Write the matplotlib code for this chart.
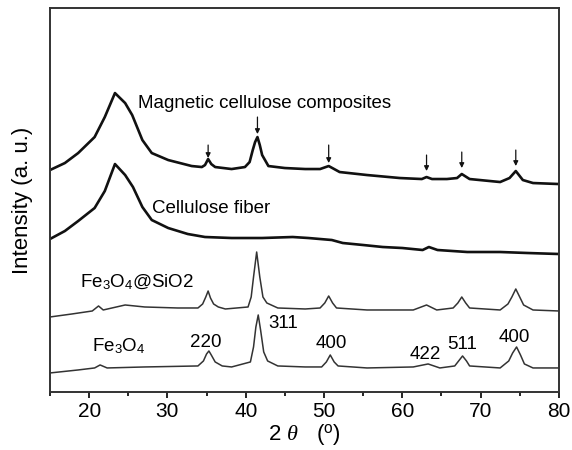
import matplotlib
matplotlib.use('Agg')
import matplotlib.pyplot as plt
from matplotlib.ticker import MultipleLocator

plt.rcParams['font.family'] = ['Liberation Sans', 'DejaVu Sans']
plt.rcParams['mathtext.fontset'] = 'custom'
plt.rcParams['mathtext.rm'] = 'Liberation Sans'
plt.rcParams['mathtext.it'] = 'Liberation Serif:italic'

# 2-theta (deg) / intensity (a.u., stacked offsets)
comp_x = [15.0, 16.9, 18.6, 20.7, 22.0, 23.3, 24.6, 25.5, 26.8, 28.0, 30.1, 33.1, 34.4, 34.8,
          35.2, 35.6, 36.1, 38.2, 39.9, 40.5, 40.9, 41.2, 41.5, 41.8, 42.1, 42.9, 45.0, 47.6,
          49.5, 50.6, 52.0, 55.5, 59.7, 62.5, 63.1, 63.8, 65.7, 67.0, 67.6, 68.6, 72.5, 73.7,
          74.5, 75.4, 76.7, 80.0]
comp_y = [222, 229, 239, 255, 275, 299, 289, 277, 252, 239, 232, 226, 225, 227,
          233, 228, 225, 223, 225, 230, 242, 250, 255, 247, 237, 226, 224, 223,
          223, 226, 220, 217, 214, 213, 215, 213, 213, 214, 218, 213, 210, 214,
          221, 212, 209, 208]

cell_x = [15.0, 16.9, 18.6, 20.7, 22.0, 23.3, 24.6, 25.6, 26.8, 28.0, 30.1, 32.6, 34.8, 38.2,
          42.1, 46.0, 48.0, 51.0, 52.4, 55.0, 57.5, 60.0, 62.6, 63.4, 64.5, 68.3, 72.5, 76.0, 80.0]
cell_y = [153, 161, 171, 184, 201, 228, 217, 205, 185, 172, 164, 158, 155, 154,
          154, 155, 154, 152, 149, 147, 145, 144, 142, 145, 142, 140, 140, 139, 138]

sio2_x = [15.0, 17.8, 20.4, 21.2, 21.8, 24.6, 27.1, 31.3, 33.9, 34.5, 34.9, 35.2, 35.5, 35.9,
          36.5, 37.4, 40.3, 40.7, 41.0, 41.4, 41.8, 42.2, 42.7, 44.1, 47.6, 49.5, 50.1, 50.6,
          51.1, 51.6, 55.5, 61.4, 63.1, 64.4, 66.5, 67.1, 67.6, 68.1, 68.6, 72.5, 73.5, 74.0,
          74.5, 75.0, 75.5, 76.7, 80.0]
sio2_y = [75, 78, 81, 86, 82, 87, 85, 84, 84, 88, 95, 101, 94, 88,
          85, 83, 85, 95, 115, 140, 115, 95, 89, 84, 83, 84, 89, 96,
          89, 84, 82, 82, 87, 82, 84, 89, 95, 89, 84, 82, 88, 95,
          103, 95, 87, 82, 81]

fe_x = [15.0, 18.6, 20.7, 21.4, 22.3, 27.1, 33.9, 34.6, 35.0, 35.3, 35.6, 36.1, 37.0, 38.2,
        40.6, 41.0, 41.3, 41.6, 41.9, 42.3, 42.8, 44.1, 47.6, 49.7, 50.3, 50.8, 51.3, 51.8,
        55.5, 61.4, 63.3, 64.8, 66.7, 67.2, 67.7, 68.2, 68.6, 72.5, 73.6, 74.1, 74.6, 75.1,
        75.6, 76.7, 80.0]
fe_y = [19, 22, 24, 27, 24, 25, 26, 31, 38, 41, 37, 30, 26, 25,
        30, 45, 65, 77, 62, 40, 31, 26, 25, 25, 30, 37, 30, 26,
        24, 25, 28, 24, 26, 31, 36, 31, 26, 24, 31, 39, 45, 37,
        28, 24, 24]

hkl = ['220', '311', '400', '422', '511', '400']
hkl_pos = [(34.9, 45), (44.8, 64), (50.9, 44), (62.9, 33), (67.7, 43), (74.3, 50)]
arrow_x = [35.2, 41.5, 50.6, 63.1, 67.6, 74.5]
arrow_top = [247, 275, 247, 237, 240, 242]
arrow_tip = [234, 258, 229, 221, 224, 226]

fig = plt.figure(figsize=(5.72, 4.5), dpi=100)
ax = fig.add_axes([0.0874, 0.129, 0.8896, 0.853])

ax.plot(comp_x, comp_y, color='#111111', lw=1.9)
ax.plot(cell_x, cell_y, color='#111111', lw=1.9)
ax.plot(sio2_x, sio2_y, color='#333333', lw=1.1)
ax.plot(fe_x, fe_y, color='#333333', lw=1.1)

ax.text(26.2, 284, 'Magnetic cellulose composites', fontsize=13.5, va='baseline')
ax.text(28.0, 179, 'Cellulose fiber', fontsize=13.5, va='baseline')
ax.text(18.8, 105, 'Fe$_3$O$_4$@SiO2', fontsize=13.5, va='baseline')
ax.text(20.4, 41, 'Fe$_3$O$_4$', fontsize=13.5, va='baseline')
for lab, (x, y) in zip(hkl, hkl_pos):
    ax.text(x, y, lab, fontsize=13.5, ha='center', va='baseline')

for x, y0, y1 in zip(arrow_x, arrow_top, arrow_tip):
    ax.annotate('', xy=(x, y1), xytext=(x, y0),
                arrowprops=dict(arrowstyle='-|>', color='#111111', lw=0.9,
                                mutation_scale=7, shrinkA=0, shrinkB=0))

ax.set_xlim(15, 80)
ax.set_ylim(0, 384)
ax.set_yticks([])
ax.xaxis.set_major_locator(MultipleLocator(10))
ax.xaxis.set_minor_locator(MultipleLocator(5))
ax.tick_params(axis='x', which='major', direction='out', length=4, width=1.2, labelsize=15, pad=3)
ax.tick_params(axis='x', which='minor', direction='out', length=3, width=1.2)
for s in ax.spines.values():
    s.set_linewidth(1.4)
    s.set_color('#333333')

ax.set_xlabel(r'2 $\theta$   $(^{\rm o})$', fontsize=16, labelpad=1)
ax.set_ylabel('Intensity (a. u.)', fontsize=16, labelpad=12)

fig.savefig('out.png', dpi=100)
